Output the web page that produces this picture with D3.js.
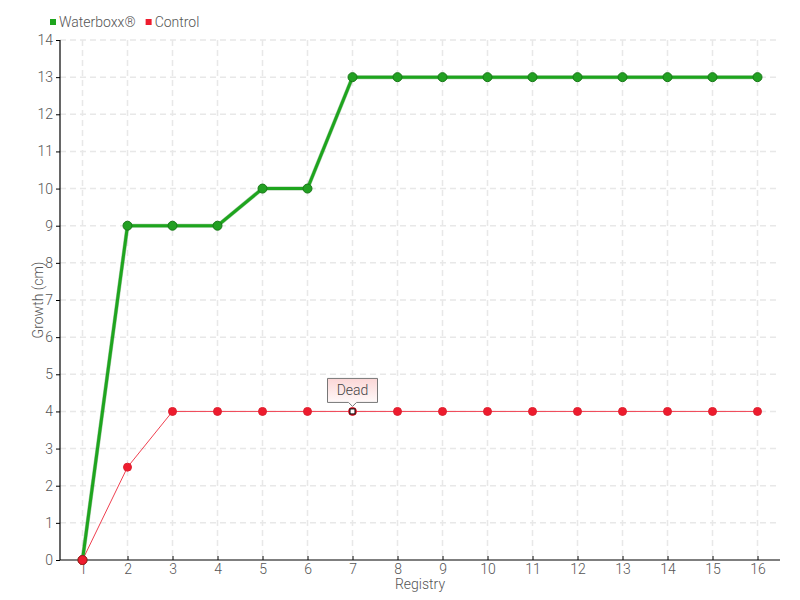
<!DOCTYPE html>
<html><head><meta charset="utf-8">
<script src="https://cdn.jsdelivr.net/npm/d3@7"></script>
<style>
body{margin:0;background:#fff;}
text{font-family:Roboto,"Liberation Sans Narrow",sans-serif;font-weight:300;}
</style></head>
<body>
<svg id="chart" width="800" height="600"></svg>
<script>
const categories = ["1","2","3","4","5","6","7","8","9","10","11","12","13","14","15","16"];
const waterboxx = [0,9,9,9,10,10,13,13,13,13,13,13,13,13,13,13];
const control = [0,2.5,4,4,4,4,4,4,4,4,4,4,4,4,4,4];
const yTicks = d3.range(0,15);
const seriesNames = ["Waterboxx®","Control"];
const annotationIndex = 6;
const annotationText = "Dead";

const FONT = 'Roboto,"Liberation Sans Narrow",sans-serif';
const svg = d3.select("#chart");
const m = {l:60, r:20, t:40, b:40};
const W = 800, H = 600;
const x = d3.scalePoint().domain(categories).range([m.l, W-m.r]).padding(0.5);
const y = d3.scaleLinear().domain([0,14]).range([H-m.b, m.t]);

// grid
const g = svg.append("g");
g.selectAll(".hg").data(yTicks.slice(1)).enter().append("line")
  .attr("x1", m.l).attr("x2", W-m.r).attr("y1", d=>y(d)).attr("y2", d=>y(d))
  .attr("stroke","#e8e8e8").attr("stroke-dasharray","6,4").attr("stroke-width",1.5);
g.selectAll(".vg").data(categories).enter().append("line")
  .attr("x1", d=>x(d)).attr("x2", d=>x(d)).attr("y1", m.t).attr("y2", H-m.b)
  .attr("stroke","#e8e8e8").attr("stroke-dasharray","6,4").attr("stroke-width",1.5);

// axes
const xa = svg.append("g").attr("transform",`translate(0,${H-m.b})`)
  .call(d3.axisBottom(x).tickSize(-4).tickPadding(2));
const ya = svg.append("g").attr("transform",`translate(${m.l},0)`)
  .call(d3.axisLeft(y).tickValues(yTicks).tickSize(4).tickPadding(3));
[xa,ya].forEach(a=>{
  a.select(".domain").attr("stroke","#000").attr("stroke-width",1.2);
  a.selectAll(".tick line").attr("stroke","#000");
  a.selectAll(".tick text").attr("fill","#555").style("font-size","14px")
   .style("font-family",FONT).style("font-weight","300");
});
xa.selectAll(".tick text").attr("dy","0.85em");
xa.select(".domain").attr("d",`M${m.l},0H${W-m.r}`);
ya.select(".domain").attr("d",`M0,${H-m.b}V${m.t}`);

svg.append("text").attr("x",(m.l+W-m.r)/2).attr("y",589).attr("text-anchor","middle")
  .attr("fill","#555").style("font-size","14px").text("Registry");
svg.append("text").attr("transform",`translate(43,${(m.t+H-m.b)/2}) rotate(-90)`)
  .attr("text-anchor","middle").attr("fill","#555").style("font-size","14px").text("Growth (cm)");

const line = d3.line().x((d,i)=>x(categories[i])).y(d=>y(d));

// control
svg.append("path").datum(control).attr("d",line).attr("fill","none")
  .attr("stroke","#f04050").attr("stroke-width",1);
// waterboxx
svg.append("path").datum(waterboxx).attr("d",line).attr("fill","none")
  .attr("stroke","#1f7a1f").attr("stroke-width",4).attr("opacity",0.4);
svg.append("path").datum(waterboxx).attr("d",line).attr("fill","none")
  .attr("stroke","#1ea51e").attr("stroke-width",3);
svg.selectAll(".wp").data(waterboxx).enter().append("circle")
  .attr("cx",(d,i)=>x(categories[i])).attr("cy",d=>y(d)).attr("r",4.5)
  .attr("fill","#22a022").attr("stroke","#187818").attr("stroke-width",1);
svg.selectAll(".cp").data(control).enter().append("circle")
  .attr("cx",(d,i)=>x(categories[i])).attr("cy",d=>y(d)).attr("r",(d,i)=>i===0?4.5:4)
  .attr("fill","#ee1c2e").attr("stroke",(d,i)=>i===0?"#b31020":"#dd2030").attr("stroke-width",1);

// annotation
const ax = x(categories[annotationIndex]), ay = y(control[annotationIndex]);
svg.append("rect").attr("x",ax-2.5).attr("y",ay-2.5).attr("width",5).attr("height",5)
  .attr("fill","#fff").attr("stroke","#000").attr("stroke-width",1);
const defs = svg.append("defs");
const gr = defs.append("linearGradient").attr("id","tipg").attr("x1",0).attr("y1",0).attr("x2",0).attr("y2",1);
gr.append("stop").attr("offset","0").attr("stop-color","#fbd6d6");
gr.append("stop").attr("offset","1").attr("stop-color","#ffffff");
const bx = ax-25, by = ay-33, bw = 50, bh = 24;
svg.append("path")
  .attr("d",`M${bx},${by}H${bx+bw}V${by+bh}H${ax+4}L${ax},${by+bh+4}L${ax-4},${by+bh}H${bx}Z`)
  .attr("fill","url(#tipg)").attr("stroke","#777").attr("stroke-width",1);
svg.append("text").attr("x",ax).attr("y",by+17).attr("text-anchor","middle")
  .attr("fill","#444").style("font-size","14px").text(annotationText);

// legend
const legColors = ["#1ea51e","#ee1c2e"];
const lg = svg.append("g");
let lx = 50;
seriesNames.forEach((n,i)=>{
  lg.append("rect").attr("x",lx).attr("y",19).attr("width",6).attr("height",6).attr("fill",legColors[i]);
  const t = lg.append("text").attr("x",lx+9).attr("y",27).attr("fill","#555").style("font-size","14px").text(n);
  lx += t.node().getComputedTextLength() + 19;
});
</script>
</body></html>
